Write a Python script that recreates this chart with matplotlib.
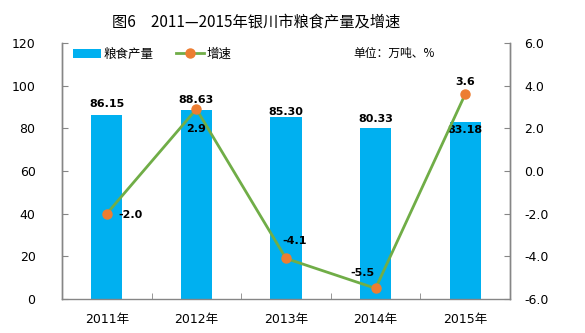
import matplotlib
matplotlib.use("Agg")
import matplotlib.pyplot as plt
import numpy as np

plt.rcParams['font.family'] = ['DejaVu Sans', 'Noto Sans CJK SC']

years = ['2011年', '2012年', '2013年', '2014年', '2015年']
output = [86.15, 88.63, 85.30, 80.33, 83.18]
growth = [-2.0, 2.9, -4.1, -5.5, 3.6]
output_labels = ['86.15', '88.63', '85.30', '80.33', '83.18']
growth_labels = ['-2.0', '2.9', '-4.1', '-5.5', '3.6']

# label offsets in pixels (dx, dy)
bar_off = [(0, 11), (0, 10), (0, 5), (0, 9), (0, -8)]
line_off = [(24, -1), (0, -20), (9, 17), (-13, 15), (0, 12)]

bar_color = '#00B0F0'
line_color = '#70AD47'
marker_color = '#ED7D31'
spine_color = '#868686'

fig = plt.figure(figsize=(5.85, 3.33), dpi=100)
ax = fig.add_axes([62/585, 1-299/333, (510-62)/585, (299-43)/333])
ax2 = ax.twinx()

x = np.arange(len(years))
bars = ax.bar(x, output, width=0.35, color=bar_color, zorder=2, label='粮食产量')
ax.set_xlim(-0.5, len(years)-0.5)
ax.set_ylim(0, 120)
ax.set_yticks(np.arange(0, 121, 20))
ax2.set_ylim(-6, 6)
ax2.set_yticks(np.arange(-6, 6.1, 2))
ax2.set_yticklabels([f'{v:.1f}' for v in np.arange(-6, 6.1, 2)])

ln, = ax2.plot(x, growth, color=line_color, lw=2.0, marker='o', ms=6.5,
               mfc=marker_color, mec=marker_color, zorder=3, label='增速')

ax.set_xticks(x)
ax.set_xticklabels(years, fontfamily=['DejaVu Sans', 'Noto Sans CJK SC'])
ax.set_xticks(np.arange(-0.5, len(years), 1)[1:-1], minor=True)
ax.tick_params(axis='x', which='major', length=0, labelsize=9, colors='#000000', pad=10)
ax.tick_params(axis='x', which='minor', direction='in', length=4, color=spine_color)
ax.tick_params(axis='y', direction='in', length=4, color=spine_color, labelsize=9, pad=19)
ax2.tick_params(axis='y', direction='in', length=4, color=spine_color, labelsize=9, pad=10)

for a in (ax, ax2):
    a.spines['top'].set_visible(False)
    for s in ('left', 'right', 'bottom'):
        a.spines[s].set_color(spine_color)
        a.spines[s].set_linewidth(1.0)
ax2.spines['bottom'].set_visible(False)

for xi, v, lab, (dx, dy) in zip(x, output, output_labels, bar_off):
    ax.annotate(lab, (xi, v), xytext=(dx*0.72, dy*0.72), textcoords='offset points',
                ha='center', va='center', fontsize=8, fontweight='bold', zorder=5)

for xi, v, lab, (dx, dy) in zip(x, growth, growth_labels, line_off):
    ax2.annotate(lab, (xi, v), xytext=(dx*0.72, dy*0.72), textcoords='offset points',
                 ha='center', va='center', fontsize=8, fontweight='bold', zorder=5)

leg = ax.legend(handles=[bars, ln], loc='upper left', bbox_to_anchor=(0.0, 1.025),
                ncol=2, frameon=False, prop={'family': 'Noto Sans CJK SC', 'size': 9},
                handlelength=2.2, columnspacing=1.8, handletextpad=0.25)

fig.text(394/585, 1-53/333, '单位：万吨、%', ha='center', va='center',
         fontsize=8.5, fontfamily=['Noto Sans CJK SC', 'DejaVu Sans'])
fig.text(256/585, 1-22/333, '图6　2011—2015年银川市粮食产量及增速', ha='center', va='center',
         fontsize=11, fontfamily=['Noto Sans CJK SC', 'DejaVu Sans'], fontweight='medium')

fig.savefig('out.png', dpi=100)
